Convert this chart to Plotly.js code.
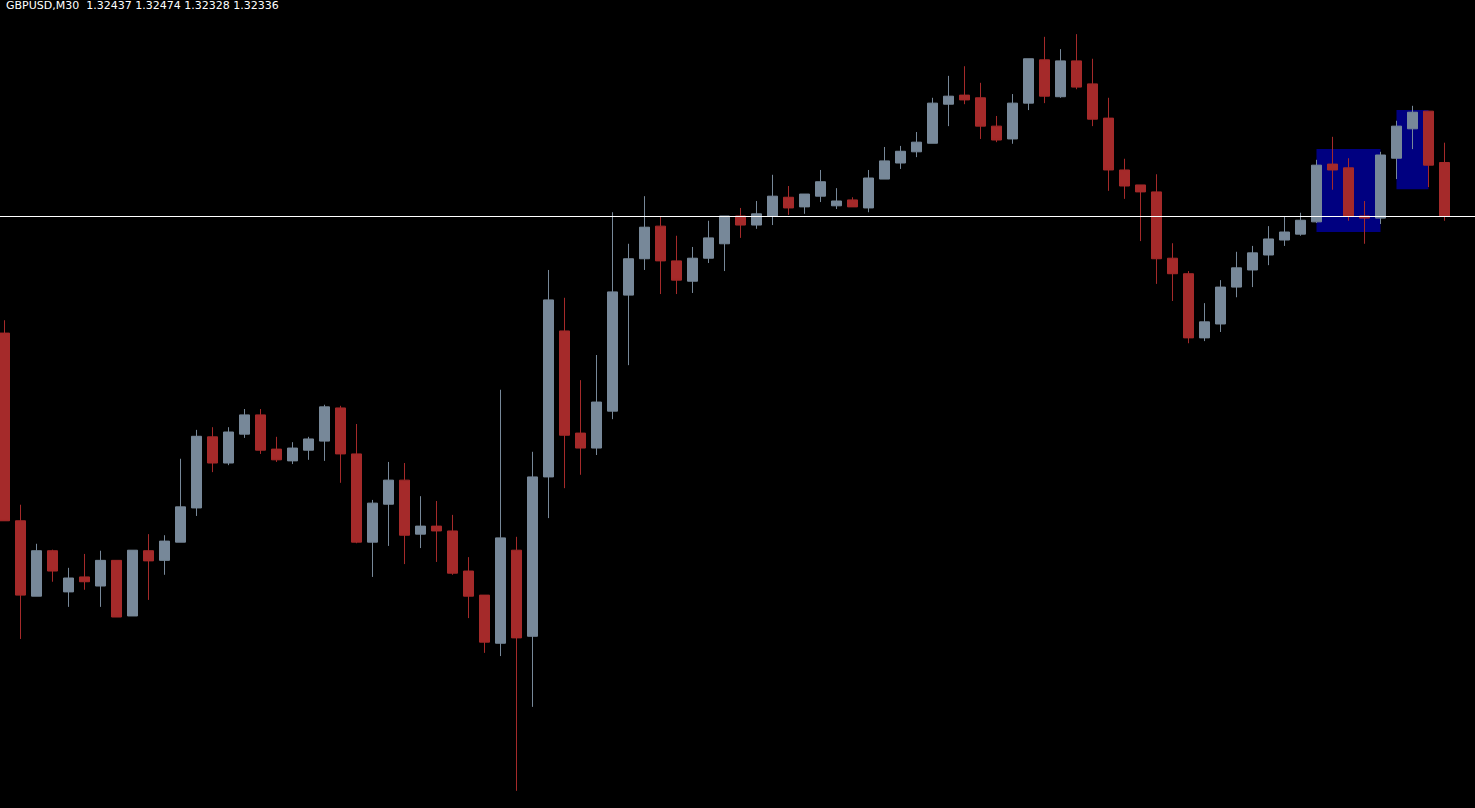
<!DOCTYPE html>
<html>
<head>
<meta charset="utf-8">
<script src="https://cdn.plot.ly/plotly-3.0.1.min.js"></script>
<style>
html,body{margin:0;padding:0;background:#000;overflow:hidden;}
#chart{width:1475px;height:808px;}
</style>
</head>
<body>
<div id="chart"></div>
<script>
const symbolLabel = "GBPUSD,M30";

const openP = [
1.32118, 1.31767, 1.31626, 1.31711, 1.31634, 1.31662, 1.31645, 1.31693, 1.31589, 1.31711,
1.31693, 1.31727, 1.31791, 1.31924, 1.31875, 1.31929, 1.31965, 1.31901, 1.31879, 1.31899,
1.31916, 1.31978, 1.31892, 1.31727, 1.31798, 1.31843, 1.31742, 1.31757, 1.31748, 1.31673,
1.31628, 1.31538, 1.31712, 1.31551, 1.31849, 1.32122, 1.31931, 1.31903, 1.31972, 1.32189,
1.32257, 1.32318, 1.32253, 1.32215, 1.32258, 1.32285, 1.32337, 1.32320, 1.32337, 1.32372,
1.32354, 1.32374, 1.32356, 1.32367, 1.32352, 1.32406, 1.32436, 1.32457, 1.32473, 1.32546,
1.32563, 1.32558, 1.32505, 1.32481, 1.32548, 1.32629, 1.32560, 1.32627, 1.32584, 1.32520,
1.32423, 1.32395, 1.32382, 1.32258, 1.32229, 1.32109, 1.32135, 1.32204, 1.32236, 1.32264,
1.32292, 1.32303, 1.32326, 1.32434, 1.32427, 1.32337, 1.32333, 1.32445, 1.32500, 1.32533,
1.32437];

const highP = [
1.32142, 1.31797, 1.31724, 1.31713, 1.31679, 1.31705, 1.31711, 1.31693, 1.31712, 1.31742,
1.31740, 1.31883, 1.31937, 1.31942, 1.31942, 1.31976, 1.31976, 1.31924, 1.31914, 1.31924,
1.31984, 1.31982, 1.31948, 1.31806, 1.31877, 1.31875, 1.31813, 1.31804, 1.31778, 1.31699,
1.31628, 1.32012, 1.31737, 1.31896, 1.32236, 1.32184, 1.32030, 1.32077, 1.32344, 1.32285,
1.32374, 1.32335, 1.32300, 1.32279, 1.32328, 1.32337, 1.32352, 1.32365, 1.32414, 1.32393,
1.32378, 1.32423, 1.32389, 1.32372, 1.32423, 1.32466, 1.32468, 1.32494, 1.32558, 1.32599,
1.32617, 1.32586, 1.32524, 1.32565, 1.32631, 1.32672, 1.32649, 1.32677, 1.32631, 1.32558,
1.32444, 1.32395, 1.32415, 1.32286, 1.32234, 1.32174, 1.32217, 1.32270, 1.32281, 1.32318,
1.32335, 1.32343, 1.32442, 1.32485, 1.32445, 1.32365, 1.32457, 1.32515, 1.32543, 1.32533,
1.32474];

const lowP = [
1.31767, 1.31546, 1.31626, 1.31653, 1.31606, 1.31638, 1.31606, 1.31587, 1.31589, 1.31619,
1.31666, 1.31727, 1.31776, 1.31858, 1.31871, 1.31922, 1.31892, 1.31877, 1.31873, 1.31881,
1.31879, 1.31838, 1.31725, 1.31662, 1.31720, 1.31686, 1.31716, 1.31690, 1.31666, 1.31585,
1.31520, 1.31514, 1.31262, 1.31419, 1.31772, 1.31828, 1.31853, 1.31890, 1.31957, 1.32058,
1.32236, 1.32191, 1.32191, 1.32193, 1.32249, 1.32234, 1.32296, 1.32313, 1.32320, 1.32339,
1.32341, 1.32363, 1.32350, 1.32354, 1.32344, 1.32406, 1.32425, 1.32447, 1.32473, 1.32505,
1.32546, 1.32481, 1.32475, 1.32472, 1.32535, 1.32548, 1.32558, 1.32574, 1.32505, 1.32384,
1.32369, 1.32290, 1.32210, 1.32178, 1.32099, 1.32103, 1.32120, 1.32185, 1.32204, 1.32245,
1.32281, 1.32300, 1.32324, 1.32386, 1.32328, 1.32285, 1.32322, 1.32406, 1.32462, 1.32391,
1.32328];

const closeP = [
1.31767, 1.31628, 1.31711, 1.31673, 1.31660, 1.31653, 1.31693, 1.31587, 1.31712, 1.31692,
1.31729, 1.31793, 1.31925, 1.31875, 1.31933, 1.31965, 1.31899, 1.31881, 1.31903, 1.31920,
1.31980, 1.31892, 1.31727, 1.31800, 1.31843, 1.31740, 1.31757, 1.31748, 1.31669, 1.31626,
1.31540, 1.31735, 1.31548, 1.31849, 1.32180, 1.31927, 1.31903, 1.31989, 1.32195, 1.32257,
1.32316, 1.32253, 1.32217, 1.32258, 1.32296, 1.32337, 1.32320, 1.32341, 1.32374, 1.32352,
1.32378, 1.32401, 1.32365, 1.32354, 1.32408, 1.32440, 1.32458, 1.32475, 1.32548, 1.32561,
1.32554, 1.32505, 1.32479, 1.32548, 1.32631, 1.32561, 1.32627, 1.32578, 1.32518, 1.32423,
1.32393, 1.32382, 1.32257, 1.32229, 1.32109, 1.32139, 1.32204, 1.32240, 1.32268, 1.32294,
1.32307, 1.32329, 1.32432, 1.32423, 1.32337, 1.32333, 1.32451, 1.32505, 1.32531, 1.32432,
1.32336];

// rectangles drawn on the chart (bar index / price)
const rectStart = [82, 87];
const rectEnd   = [86, 89];
const rectLow   = [1.32307, 1.32387];
const rectHigh  = [1.32462, 1.32535];

const barIndex = openP.map((_, i) => i);
const last = openP.length - 1;
const bidPrice = closeP[last];

const headerText = symbolLabel + "\u00A0\u00A0" +
  [openP[last], highP[last], lowP[last], closeP[last]].map(v => v.toFixed(5)).join(" ");

const trace = {
  type: 'candlestick',
  x: barIndex,
  open: openP, high: highP, low: lowP, close: closeP,
  increasing: {line: {color: '#778899', width: 1}, fillcolor: '#778899'},
  decreasing: {line: {color: '#A52A2A', width: 1}, fillcolor: '#A52A2A'},
  whiskerwidth: 0,
  hoverinfo: 'skip',
  showlegend: false
};

const shapes = rectStart.map((s, k) => ({
  type: 'rect', layer: 'below', xref: 'x', yref: 'y',
  x0: s, x1: rectEnd[k], y0: rectLow[k], y1: rectHigh[k],
  fillcolor: '#000080', line: {width: 0}
}));
shapes.push({
  type: 'line', layer: 'above', xref: 'paper', yref: 'y',
  x0: 0, x1: 1, y0: bidPrice, y1: bidPrice,
  line: {color: '#ffffff', width: 1}
});

const pxPerBar = 16;
const x0 = -0.28125;
const layout = {
  width: 1475, height: 808,
  margin: {l: 0, r: 0, t: 0, b: 0, pad: 0},
  paper_bgcolor: '#000000', plot_bgcolor: '#000000',
  boxgap: 0.375,
  boxgroupgap: 0,
  showlegend: false,
  xaxis: {visible: false, range: [x0, x0 + 1475 / pxPerBar], fixedrange: true,
          rangeslider: {visible: false}, showgrid: false, zeroline: false},
  yaxis: {visible: false, range: [1.3122989, 1.3274086], fixedrange: true,
          showgrid: false, zeroline: false},
  shapes: shapes,
  annotations: [{
    xref: 'paper', yref: 'paper', x: 0, y: 1, xanchor: 'left', yanchor: 'top',
    xshift: 4, yshift: 3, showarrow: false, text: headerText,
    font: {family: 'DejaVu Sans', size: 11, color: '#ffffff'}
  }]
};

Plotly.newPlot('chart', [trace], layout, {displayModeBar: false, staticPlot: true});
</script>
</body>
</html>
